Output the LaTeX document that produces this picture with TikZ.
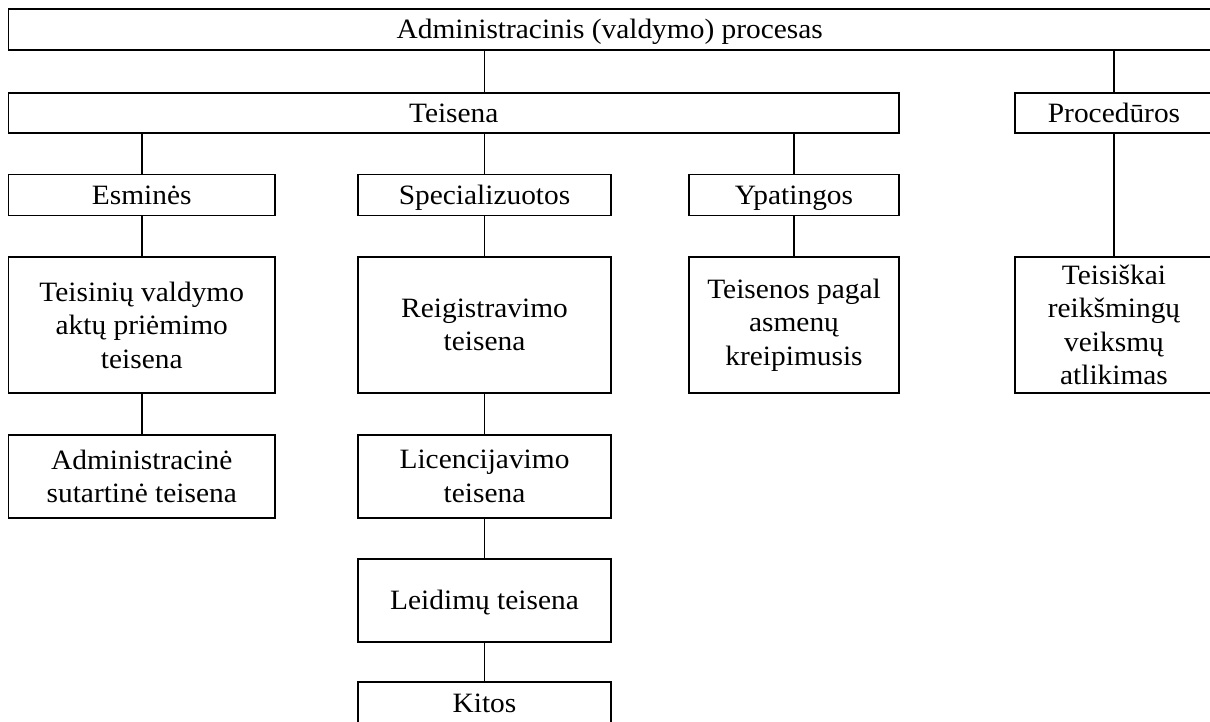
\documentclass[tikz,border=0pt]{standalone}
\usepackage{fontspec}
\setmainfont{Liberation Serif}[FakeStretch=1.05]

\begin{document}
\begin{tikzpicture}[x=1pt,y=-1pt,line width=1.5pt,
                    main node/.style={rectangle,draw,inner sep=0pt,align=center,
                                      font=\fontsize{28}{33.5}\selectfont},
                    one line/.style={text height=18.5pt,text depth=0pt}]
  \useasboundingbox (0,0) rectangle (1210,722);
  \node[main node,one line,minimum width=1202.5,minimum height=41] (1) at (609.75,29.5) {Administracinis (valdymo) procesas};
  \node[main node,one line,minimum width=890.5,minimum height=40] (2) at (453.75,113) {Teisena};
  \node[main node,one line,minimum width=198,minimum height=40] (3) at (1114,113) {Procedūros};
  \node[main node,one line,minimum width=266.5,minimum height=41] (4) at (141.75,195) {Esminės};
  \node[main node,one line,minimum width=253,minimum height=41] (5) at (484.5,195) {Specializuotos};
  \node[main node,one line,minimum width=210,minimum height=41] (6) at (794,195) {Ypatingos};
  \node[main node,minimum width=266.5,minimum height=136] (7) at (141.75,325) {Teisinių valdymo\\aktų priėmimo\\teisena};
  \node[main node,minimum width=253,minimum height=136] (8) at (484.5,325) {Reigistravimo\\teisena};
  \node[main node,minimum width=210,minimum height=136] (9) at (794,325) {Teisenos pagal\\asmenų\\kreipimusis};
  \node[main node,minimum width=198,minimum height=136] (10) at (1114,325) {Teisiškai\\reikšmingų\\veiksmų\\atlikimas};
  \node[main node,minimum width=266.5,minimum height=83] (11) at (141.75,476.5) {Administracinė\\sutartinė teisena};
  \node[main node,minimum width=253,minimum height=83] (12) at (484.5,476.5) {Licencijavimo\\teisena};
  \node[main node,one line,minimum width=253,minimum height=83] (13) at (484.5,600.5) {Leidimų teisena};
  \node[main node,one line,minimum width=253,minimum height=42] (14) at (484.5,703) {Kitos};
  \path
    (1.south -| 5.north) edge (2.north -| 5.north)
    (1.south -| 3.north) edge (3.north)
    (2.south -| 4.north) edge (4.north)
    (2.south -| 5.north) edge (5.north)
    (2.south -| 6.north) edge (6.north)
    (4) edge (7)
    (5) edge (8)
    (6) edge (9)
    (3) edge (10)
    (7) edge (11)
    (8) edge (12)
    (12) edge (13)
    (13) edge (14);
\end{tikzpicture}
\end{document}
